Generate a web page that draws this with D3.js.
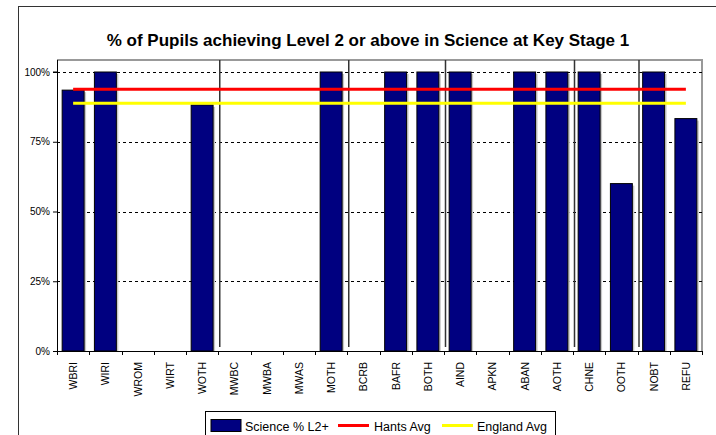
<!DOCTYPE html>
<html>
<head>
<meta charset="utf-8">
<script src="https://d3js.org/d3.v7.min.js"></script>
<style>
body { margin: 0; background: #fff; font-family: "Liberation Sans", Arial, sans-serif; }
.grid line { stroke: #000; stroke-dasharray: 3,3; stroke-width: 1; }
.tick text { fill: #000; }
</style>
</head>
<body>
<div id="chart"></div>
<script>
// Categories and values
var categories = ["WBRI", "WIRI", "WROM", "WIRT", "WOTH", "MWBC", "MWBA", "MWAS", "MOTH", "BCRB",
  "BAFR", "BOTH", "AIND", "APKN", "ABAN", "AOTH", "CHNE", "OOTH", "NOBT", "REFU"];
var science = [93.5, 100, null, null, 88.2, null, null, null, 100, null,
  100, 100, 100, null, 100, 100, 100, 60, 100, 83.3];
var hantsAvg = 93.8;
var englandAvg = 88.8;
// group dividers drawn after these categories
var dividers = ["WOTH", "MOTH", "BOTH", "AOTH", "OOTH"];
var yTicks = [0, 25, 50, 75, 100];
var legendItems = ["Science % L2+", "Hants Avg", "England Avg"];

var width = 716, height = 435;
var plotLeft = 57, plotRight = 702, plotTop = 60, plotBottom = 351;

var svg = d3.select("#chart").append("svg")
  .attr("width", width).attr("height", height);

// outer frame
svg.append("rect").attr("x", 18.5).attr("y", 6.5)
  .attr("width", 720).attr("height", 440)
  .attr("fill", "#fff").attr("stroke", "#333").attr("stroke-width", 1);

var x = d3.scaleBand().domain(categories).range([plotLeft, plotRight])
  .paddingInner(0.32).paddingOuter(0.16);
var y = d3.scaleLinear().domain([0, 100]).range([plotBottom, 72]);
var step = x.step();

// title
svg.append("text").attr("x", 368).attr("y", 46)
  .attr("text-anchor", "middle")
  .attr("font-size", "17px").attr("font-weight", "bold")
  .text("% of Pupils achieving Level 2 or above in Science at Key Stage 1");

// plot area border (grey, top and right)
svg.append("path")
  .attr("d", "M" + plotLeft + "," + plotTop + "H" + plotRight + "V" + plotBottom)
  .attr("fill", "none").attr("stroke", "#999").attr("stroke-width", 2);

// gridlines
svg.append("g").attr("class", "grid")
  .selectAll("line").data(yTicks.filter(function (d) { return d > 0; }))
  .enter().append("line")
  .attr("x1", plotLeft).attr("x2", plotRight)
  .attr("y1", function (d) { return Math.round(y(d)) + 0.5; })
  .attr("y2", function (d) { return Math.round(y(d)) + 0.5; });

// y axis
var yAxis = d3.axisLeft(y).tickValues(yTicks).tickSize(4).tickPadding(3)
  .tickFormat(function (d) { return d + "%"; });
svg.append("g").attr("transform", "translate(" + plotLeft + ",0)").call(yAxis)
  .call(function (g) {
    g.select(".domain").attr("stroke", "#000").attr("d", "M-4," + y(100) + "H0.5V" + (plotBottom + 0.5) + "H-4");
    g.selectAll("text").attr("font-size", "10px").attr("font-family", "Liberation Sans, Arial, sans-serif");
  });
svg.append("line").attr("x1", plotLeft + 0.5).attr("x2", plotLeft + 0.5)
  .attr("y1", plotTop).attr("y2", plotBottom).attr("stroke", "#000");

// bar shadows
var barData = categories.map(function (c, i) { return { cat: c, v: science[i] }; })
  .filter(function (d) { return d.v != null; });

svg.append("g").selectAll("rect").data(barData).enter().append("rect")
  .attr("x", function (d) { return x(d.cat) + 2; })
  .attr("y", function (d) { return y(d.v) + 2; })
  .attr("width", x.bandwidth())
  .attr("height", function (d) { return plotBottom - y(d.v) - 2; })
  .attr("fill", "#c8c8c8");

// bars
svg.append("g").selectAll("rect").data(barData).enter().append("rect")
  .attr("x", function (d) { return x(d.cat); })
  .attr("y", function (d) { return y(d.v); })
  .attr("width", x.bandwidth())
  .attr("height", function (d) { return plotBottom - y(d.v); })
  .attr("fill", "#000080").attr("stroke", "#000").attr("stroke-width", 1);

// group dividers
svg.append("g").selectAll("line").data(dividers).enter().append("line")
  .attr("x1", function (d) { return x(d) + x.bandwidth() + (step - x.bandwidth()) / 2 + 1.5; })
  .attr("x2", function (d) { return x(d) + x.bandwidth() + (step - x.bandwidth()) / 2 + 1.5; })
  .attr("y1", plotTop).attr("y2", plotBottom - 4)
  .attr("stroke", "#333").attr("stroke-width", 1.5);

// average lines
var xFirst = x(categories[0]) + x.bandwidth() / 2;
var xLast = x(categories[categories.length - 1]) + x.bandwidth() / 2;
svg.append("line").attr("x1", xFirst).attr("x2", xLast)
  .attr("y1", y(hantsAvg)).attr("y2", y(hantsAvg))
  .attr("stroke", "#ff0000").attr("stroke-width", 3);
svg.append("line").attr("x1", xFirst).attr("x2", xLast)
  .attr("y1", y(englandAvg)).attr("y2", y(englandAvg))
  .attr("stroke", "#ffff00").attr("stroke-width", 3);

// x axis
var xg = svg.append("g").attr("transform", "translate(0," + plotBottom + ")");
xg.append("line").attr("x1", plotLeft).attr("x2", plotRight + 1).attr("y1", 0.5).attr("y2", 0.5).attr("stroke", "#000");
xg.selectAll("line.tk").data(d3.range(categories.length + 1)).enter().append("line")
  .attr("class", "tk")
  .attr("x1", function (i) { return Math.round(plotLeft + i * step) + 0.5; })
  .attr("x2", function (i) { return Math.round(plotLeft + i * step) + 0.5; })
  .attr("y1", 0).attr("y2", 4).attr("stroke", "#000");
xg.selectAll("text").data(categories).enter().append("text")
  .attr("transform", function (d) { return "translate(" + (x(d) + x.bandwidth() / 2 + 4) + ",11) rotate(-90)"; })
  .attr("text-anchor", "end")
  .attr("font-size", "10.5px")
  .text(function (d) { return d; });

// legend
var lg = svg.append("g").attr("transform", "translate(205,411)");
lg.append("rect").attr("x", 0.5).attr("y", 0.5).attr("width", 350).attr("height", 40)
  .attr("fill", "#fff").attr("stroke", "#000");
lg.append("rect").attr("x", 6).attr("y", 8.5).attr("width", 30).attr("height", 12)
  .attr("fill", "#000080").attr("stroke", "#000");
lg.append("text").attr("x", 40).attr("y", 20).attr("font-size", "12.5px").text(legendItems[0]);
lg.append("line").attr("x1", 133).attr("x2", 164).attr("y1", 14.5).attr("y2", 14.5)
  .attr("stroke", "#ff0000").attr("stroke-width", 3);
lg.append("text").attr("x", 169).attr("y", 20).attr("font-size", "12.5px").text(legendItems[1]);
lg.append("line").attr("x1", 237).attr("x2", 268).attr("y1", 14.5).attr("y2", 14.5)
  .attr("stroke", "#ffff00").attr("stroke-width", 3);
lg.append("text").attr("x", 272).attr("y", 20).attr("font-size", "12.5px").text(legendItems[2]);
</script>
</body>
</html>
